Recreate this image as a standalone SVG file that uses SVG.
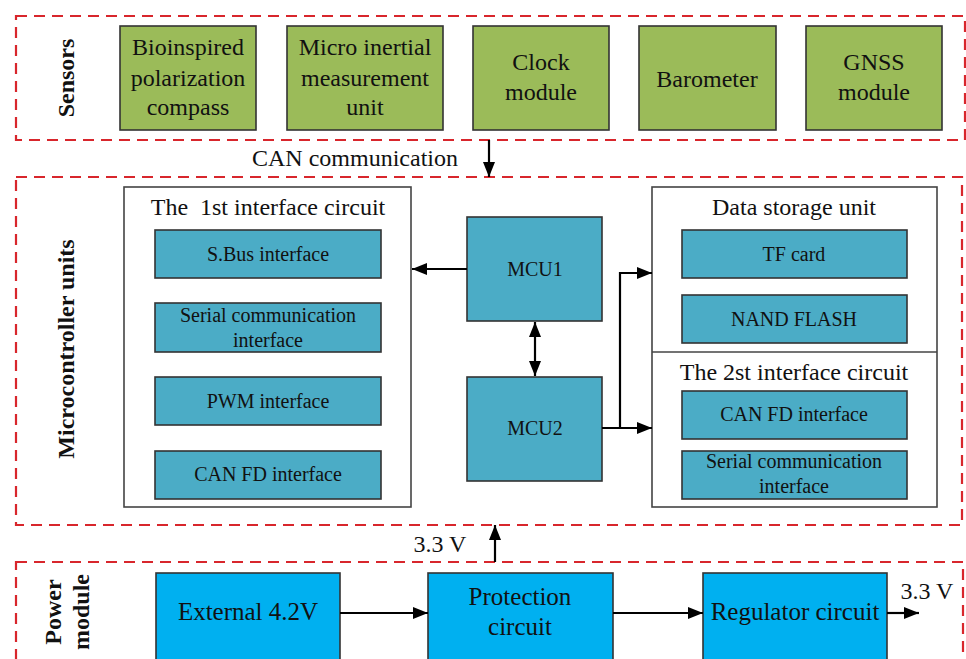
<svg xmlns="http://www.w3.org/2000/svg" width="966" height="659" viewBox="0 0 966 659" font-family="'Liberation Serif', 'DejaVu Serif', serif">
<style>
.grp{fill:none;stroke:#d8262c;stroke-width:2.2;stroke-dasharray:11 7}
.sen{fill:#9bbb59;stroke:#333;stroke-width:1.6}
.mcu{fill:#4bacc6;stroke:#333;stroke-width:1.6}
.pwr{fill:#00b0f0;stroke:#333;stroke-width:1.6}
.frame{fill:#fff;stroke:#444;stroke-width:1.6}
text{font-family:'Liberation Serif','DejaVu Serif',serif;fill:#111;text-anchor:middle}
.t24{font-size:24px}
.t20{font-size:20px}
.t25{font-size:25px}
.lab{font-size:24px;font-weight:bold}
.con{fill:none;stroke:#000;stroke-width:2.2}
</style>
<defs>
<marker id="ah" markerWidth="15" markerHeight="12" refX="15" refY="6" orient="auto-start-reverse" markerUnits="userSpaceOnUse">
<path d="M0,0 L15,6 L0,12 z" fill="#000"/>
</marker>
</defs>
<rect width="966" height="659" fill="#fff"/>

<g id="sensors">
<rect class="grp" x="16" y="16" width="949" height="124"/>
<text class="lab" transform="translate(74,78) rotate(-90)">Sensors</text>
</g>
<g id="compass">
<rect class="sen" x="120" y="26" width="136" height="104"/>
<text class="t24" x="188" y="55">Bioinspired</text>
<text class="t24" x="188" y="86">polarization</text>
<text class="t24" x="188" y="115">compass</text>
</g>
<g id="imu">
<rect class="sen" x="287" y="26" width="156" height="104"/>
<text class="t24" x="365" y="55">Micro inertial</text>
<text class="t24" x="365" y="86">measurement</text>
<text class="t24" x="365" y="115">unit</text>
</g>
<g id="clock">
<rect class="sen" x="473" y="26" width="136" height="104"/>
<text class="t24" x="541" y="70">Clock</text>
<text class="t24" x="541" y="100">module</text>
</g>
<g id="barometer">
<rect class="sen" x="639" y="26" width="137" height="104"/>
<text class="t24" x="707" y="87">Barometer</text>
</g>
<g id="gnss">
<rect class="sen" x="806" y="26" width="136" height="104"/>
<text class="t24" x="874" y="70">GNSS</text>
<text class="t24" x="874" y="100">module</text>
</g>

<g id="mcu-units">
<rect class="grp" x="16" y="177" width="946" height="348"/>
<text class="lab" transform="translate(74,349) rotate(-90)">Microcontroller units</text>
</g>
<g id="iface1">
<rect class="frame" x="124" y="187" width="287" height="320"/>
<text class="t24" x="268" y="215" xml:space="preserve">The  1st interface circuit</text>
</g>
<g id="sbus">
<rect class="mcu" x="155" y="230" width="226" height="48"/>
<text class="t20" x="268" y="261">S.Bus interface</text>
</g>
<g id="serial1">
<rect class="mcu" x="155" y="303" width="226" height="49"/>
<text class="t20" x="268" y="322">Serial communication</text>
<text class="t20" x="268" y="347">interface</text>
</g>
<g id="pwm">
<rect class="mcu" x="155" y="377" width="226" height="48"/>
<text class="t20" x="268" y="408">PWM interface</text>
</g>
<g id="canfd1">
<rect class="mcu" x="155" y="451" width="226" height="48"/>
<text class="t20" x="268" y="481">CAN FD interface</text>
</g>
<g id="mcu1">
<rect class="mcu" x="467" y="217" width="135" height="104"/>
<text class="t20" x="535" y="276">MCU1</text>
</g>
<g id="mcu2">
<rect class="mcu" x="467" y="377" width="135" height="104"/>
<text class="t20" x="535" y="435">MCU2</text>
</g>
<g id="storage">
<rect class="frame" x="652" y="187" width="285" height="320"/>
<line x1="652" y1="352" x2="937" y2="352" stroke="#444" stroke-width="1.6"/>
<text class="t24" x="794" y="215">Data storage unit</text>
</g>
<g id="tf">
<rect class="mcu" x="682" y="230" width="225" height="48"/>
<text class="t20" x="794" y="261">TF card</text>
</g>
<g id="nand">
<rect class="mcu" x="682" y="295" width="225" height="48"/>
<text class="t20" x="794" y="326">NAND FLASH</text>
</g>
<g id="iface2">
<text class="t24" x="794" y="380">The 2st interface circuit</text>
</g>
<g id="canfd2">
<rect class="mcu" x="682" y="391" width="225" height="48"/>
<text class="t20" x="794" y="421">CAN FD interface</text>
</g>
<g id="serial2">
<rect class="mcu" x="682" y="451" width="225" height="48"/>
<text class="t20" x="794" y="468">Serial communication</text>
<text class="t20" x="794" y="493">interface</text>
</g>

<g id="power">
<rect class="grp" x="16" y="562" width="947" height="110"/>
<text class="lab" transform="translate(61,612) rotate(-90)">Power</text>
<text class="lab" transform="translate(89,612) rotate(-90)">module</text>
</g>
<g id="external">
<rect class="pwr" x="156" y="573" width="184" height="90"/>
<text class="t25" x="248" y="620">External 4.2V</text>
</g>
<g id="protection">
<rect class="pwr" x="428" y="573" width="185" height="90"/>
<text class="t25" x="520" y="605">Protection</text>
<text class="t25" x="520" y="635">circuit</text>
</g>
<g id="regulator">
<rect class="pwr" x="703" y="573" width="184" height="90"/>
<text class="t25" x="795" y="620">Regulator circuit</text>
</g>

<g id="connectors">
<line class="con" x1="489" y1="140" x2="489" y2="177" marker-end="url(#ah)"/>
<text class="t24" x="355" y="166">CAN communication</text>
<line class="con" x1="467" y1="269" x2="412" y2="269" marker-end="url(#ah)"/>
<line class="con" x1="535" y1="322" x2="535" y2="376" marker-start="url(#ah)" marker-end="url(#ah)"/>
<line class="con" x1="602" y1="428" x2="652" y2="428" marker-end="url(#ah)"/>
<polyline class="con" points="620,428 620,273 652,273" marker-end="url(#ah)"/>
<line class="con" x1="495" y1="562" x2="495" y2="525" marker-end="url(#ah)"/>
<text class="t24" x="440" y="552">3.3 V</text>
<line class="con" x1="340" y1="613" x2="428" y2="613" marker-end="url(#ah)"/>
<line class="con" x1="613" y1="613" x2="703" y2="613" marker-end="url(#ah)"/>
<line class="con" x1="887" y1="613" x2="919" y2="613" marker-end="url(#ah)"/>
<text class="t24" x="927" y="599">3.3 V</text>
</g>
</svg>
